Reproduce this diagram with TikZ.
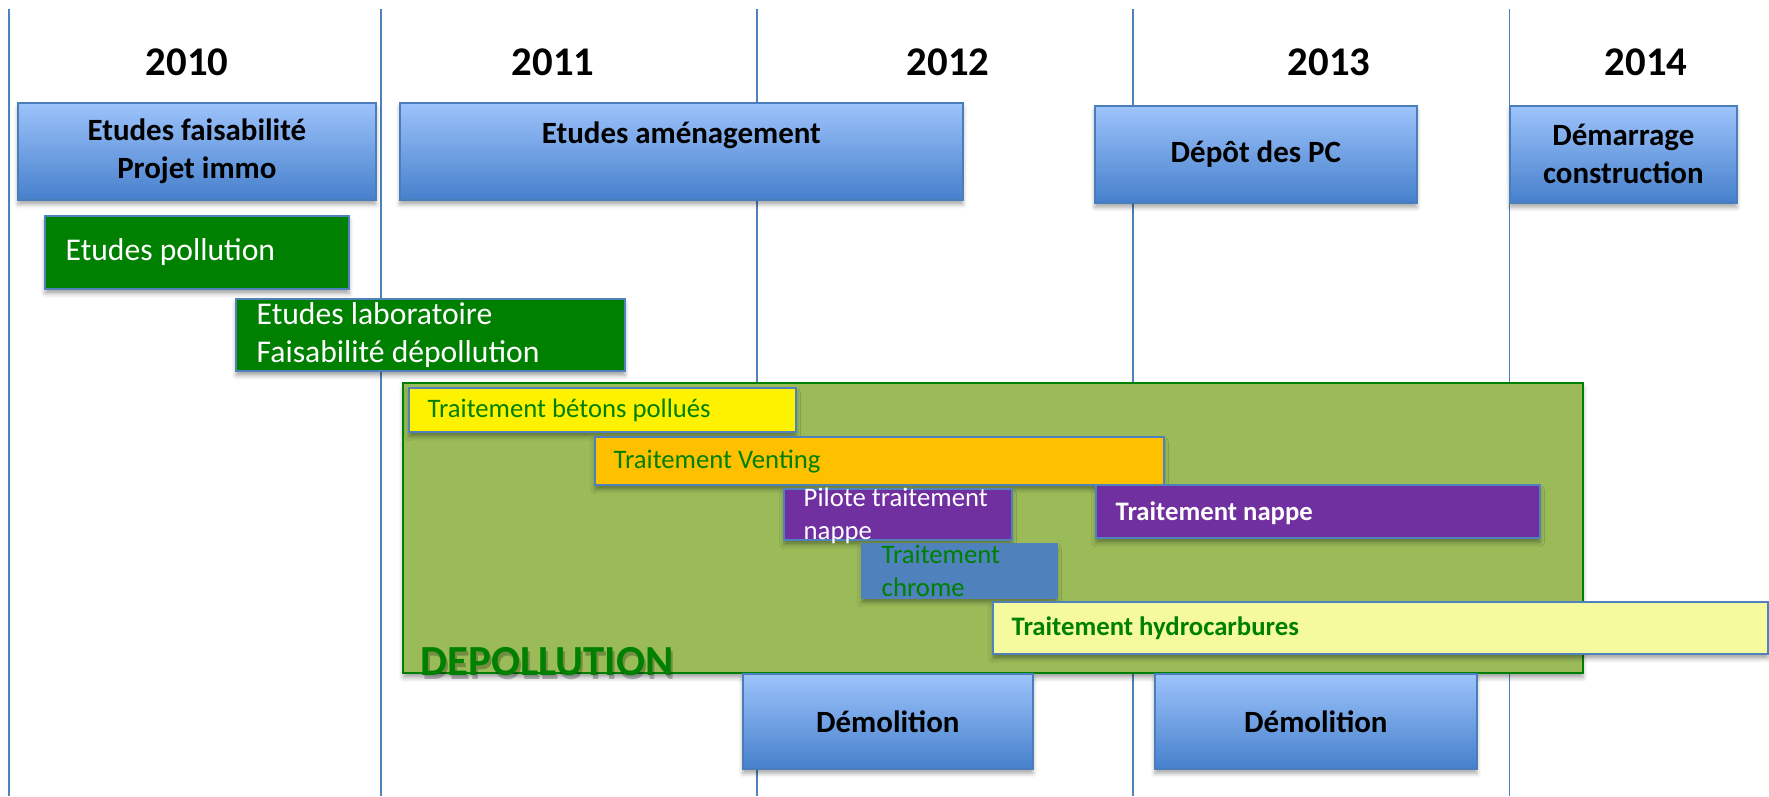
\documentclass[tikz,border=0pt]{standalone}
\usepackage{fontspec}
\setmainfont{Carlito}
\usetikzlibrary{shadows.blur}

\definecolor{gridblue}{HTML}{4F81BD}
\definecolor{boxtop}{HTML}{9DC3FB}
\definecolor{boxbottom}{HTML}{4680CC}
\definecolor{boxline}{HTML}{4A7EBB}
\definecolor{darkgreen}{HTML}{008000}
\definecolor{depolgreen}{HTML}{9BBB59}
\definecolor{ventorange}{HTML}{FFC000}
\definecolor{napppurple}{HTML}{7030A0}
\definecolor{paleyellow}{HTML}{F5FA9E}

\tikzset{
  softshadow/.style={blur shadow={shadow xshift=0pt, shadow yshift=-1.3pt, shadow blur radius=1.2pt, shadow opacity=35}},
  year/.style={font=\fontsize{11.6}{14}\selectfont\bfseries},
  milestone/.style={draw=boxline, line width=0.5pt, top color=boxtop, bottom color=boxbottom,
    anchor=north west, align=center, softshadow, font=\fontsize{8.8}{10.8}\selectfont\bfseries},
  study/.style={draw=gridblue, line width=0.6pt, fill=darkgreen, anchor=north west, softshadow},
  studytext/.style={anchor=west, inner sep=0pt, align=left, text=white, font=\fontsize{9}{10.8}\selectfont},
  task/.style={draw=gridblue, line width=0.6pt, anchor=north west, softshadow},
  tasktext/.style={anchor=west, inner sep=0pt, align=left, font=\fontsize{7.6}{9.5}\selectfont}
}

\begin{document}
\begin{tikzpicture}[x=0.1mm, y=-0.1mm]
  \useasboundingbox (0,0) rectangle (1769,796);

  \foreach \x in {9,381,757,1133,1509}
    \draw[gridblue, line width=0.3pt] (\x,9) -- (\x,796);

  \foreach \yr/\x in {2010/187, 2011/553, 2012/948, 2013/1329, 2014/1646}
    \node[year] (y\yr) at (\x,62) {\yr};

  \node[milestone, minimum width=35.8mm, minimum height=9.7mm] (faisab) at (17,102) {Etudes faisabilité\\Projet immo};
  \node[milestone, minimum width=56.3mm, minimum height=9.7mm] (amenag) at (399,102) {Etudes aménagement\\~};
  \node[milestone, minimum width=32.2mm, minimum height=9.7mm] (depot) at (1094,105) {Dépôt des PC};
  \node[milestone, minimum width=22.7mm, minimum height=9.7mm] (demarrage) at (1509,105) {Démarrage\\construction};

  \node[study, minimum width=30.4mm, minimum height=7.3mm] (pollution) at (44,215) {};
  \node[studytext] (pollution-t) at ([xshift=2.1mm]pollution.west) {Etudes pollution};
  \node[study, minimum width=38.9mm, minimum height=7.2mm] (labo) at (235,298) {};
  \node[studytext] (labo-t) at ([xshift=2.1mm]labo.west) {Etudes laboratoire\\Faisabilité dépollution};

  \node[draw=darkgreen, line width=0.7pt, fill=depolgreen, anchor=north west, softshadow,
    minimum width=118mm, minimum height=29mm] (depol) at (402,382) {};

  \node[task, fill=yellow, minimum width=38.7mm, minimum height=4.4mm] (betons) at (408,387) {};
  \node[tasktext, text=darkgreen] (betons-t) at ([xshift=1.9mm]betons.west) {Traitement bétons pollués};
  \node[task, fill=ventorange, minimum width=56.9mm, minimum height=4.8mm] (venting) at (594,436) {};
  \node[tasktext, text=darkgreen] (venting-t) at ([xshift=1.9mm]venting.west) {Traitement Venting};
  \node[task, fill=napppurple, minimum width=22.8mm, minimum height=5.1mm] (pilote) at (783,488) {};
  \node[tasktext, text=white] (pilote-t) at ([xshift=2mm, yshift=-0.15mm]pilote.west) {Pilote traitement\\nappe};
  \node[task, fill=napppurple, minimum width=44.4mm, minimum height=5.3mm] (nappe) at (1095,484) {};
  \node[tasktext, text=white, font=\fontsize{7.6}{9.5}\selectfont\bfseries] (nappe-t) at ([xshift=2mm, yshift=-0.2mm]nappe.west) {Traitement nappe};
  \node[task, fill=gridblue, minimum width=19.5mm, minimum height=5.4mm] (chrome) at (861,543) {};
  \node[tasktext, text=darkgreen] (chrome-t) at ([xshift=2mm]chrome.west) {Traitement\\chrome};
  \node[task, fill=paleyellow, minimum width=77.5mm, minimum height=5.2mm] (hydro) at (992,601) {};
  \node[tasktext, text=darkgreen, font=\fontsize{7.6}{9.5}\selectfont\bfseries] (hydro-t) at ([xshift=1.9mm]hydro.west) {Traitement hydrocarbures};

  \node[text=black, opacity=0.25, font=\fontsize{12.2}{14}\selectfont\bfseries] (depol-s) at (549,666) {DEPOLLUTION};
  \node[text=darkgreen, font=\fontsize{12.2}{14}\selectfont\bfseries] (depol-t) at (547,662) {DEPOLLUTION};

  \node[milestone, minimum width=29mm, minimum height=9.5mm] (demol1) at (742,673) {Démolition};
  \node[milestone, minimum width=32.2mm, minimum height=9.5mm] (demol2) at (1154,673) {Démolition};
\end{tikzpicture}
\end{document}
